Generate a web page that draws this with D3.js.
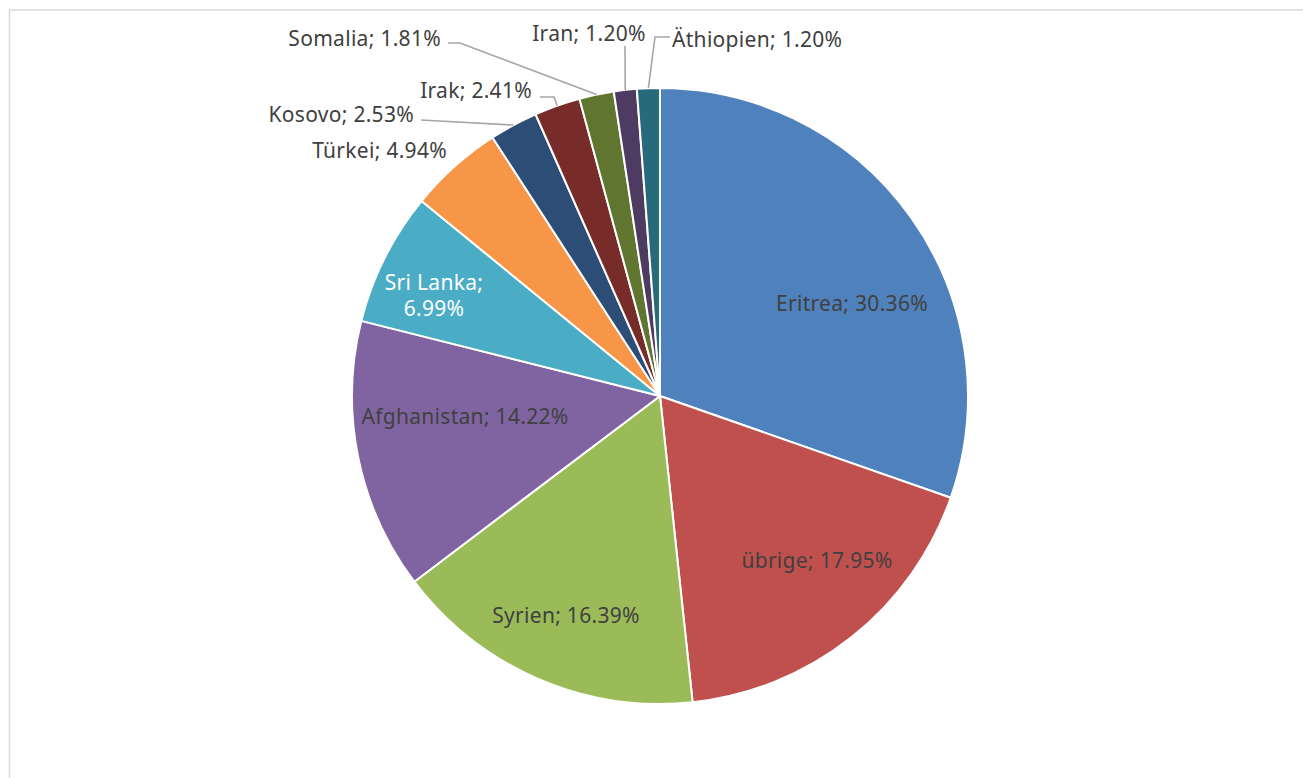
<!DOCTYPE html>
<html><head><meta charset="utf-8">
<script src="https://cdn.jsdelivr.net/npm/d3@7"></script>
<style>
html,body{margin:0;padding:0;background:#fff;}
svg{display:block;}
text{font-family:"Noto Sans",sans-serif;}
</style></head>
<body>
<svg id="chart" width="1303" height="778"></svg>
<script>
const categories = ["Eritrea","übrige","Syrien","Afghanistan","Sri Lanka","Türkei","Kosovo","Irak","Somalia","Iran","Äthiopien"];
const values = [30.36,17.95,16.39,14.22,6.99,4.94,2.53,2.41,1.81,1.20,1.20];
const colors = ["#4F81BD","#C0504D","#9BBB59","#8064A2","#4BACC6","#F79646","#2C4D75","#772C2A","#5F7530","#4D3B62","#276A7C"];

// layout: label anchor positions (x, baseline y), anchor, text colour, leader via points
const labelLayout = [
  {x:852, y:311, anchor:"middle", fill:"#404040"},
  {x:817, y:568, anchor:"middle", fill:"#404040"},
  {x:566, y:623, anchor:"middle", fill:"#404040"},
  {x:465, y:424, anchor:"middle", fill:"#404040"},
  {x:434, y:290, anchor:"middle", fill:"#ffffff", lines:2},
  {x:447, y:158, anchor:"end", fill:"#404040"},
  {x:414, y:122, anchor:"end", fill:"#404040", leader:[[421,120]]},
  {x:532, y:98, anchor:"end", fill:"#404040", leader:[[540,97],[554,97]]},
  {x:441, y:46, anchor:"end", fill:"#404040", leader:[[448,43],[460,43]]},
  {x:589, y:41, anchor:"middle", fill:"#404040", leader:[[625,46]]},
  {x:672, y:47, anchor:"start", fill:"#404040", leader:[[670,37],[655,37]]}
];

const W = 1303, H = 778;
const cx = 660, cy = 396, R = 308;
const svg = d3.select("#chart");

// chart area border
svg.append("rect").attr("x",9.5).attr("y",10).attr("width",W).attr("height",H)
  .attr("fill","none").attr("stroke","#d9d9d9").attr("stroke-width",1.5);

const data = categories.map((c,i)=>({name:c,value:values[i],color:colors[i]}));
const pie = d3.pie().value(d=>d.value).sort(null);
const arcs = pie(data);
const arc = d3.arc().innerRadius(0).outerRadius(R);

const g = svg.append("g").attr("transform",`translate(${cx},${cy})`);
g.selectAll("path.slice").data(arcs).enter().append("path")
  .attr("class","slice")
  .attr("d",arc)
  .attr("fill",d=>d.data.color)
  .attr("stroke","#ffffff").attr("stroke-width",2).attr("stroke-linejoin","round");

// leader lines
const outerPt = (d, f) => {
  const a = d.startAngle + (d.endAngle - d.startAngle)*f;
  return [cx + R*Math.sin(a), cy - R*Math.cos(a)];
};
arcs.forEach((d,i)=>{
  const L = labelLayout[i];
  if(!L.leader) return;
  const pts = L.leader.slice();
  pts.push(outerPt(d,0.5));
  svg.append("path").attr("d", d3.line()(pts))
    .attr("fill","none").attr("stroke","#a6a6a6").attr("stroke-width",1.6);
});

// labels
arcs.forEach((d,i)=>{
  const L = labelLayout[i];
  const pct = d.data.value.toFixed(2) + "%";
  const t = svg.append("text").attr("x",L.x).attr("y",L.y)
    .attr("text-anchor",L.anchor).attr("fill",L.fill)
    .attr("font-size",21).attr("letter-spacing",0.3);
  if(L.lines===2){
    t.append("tspan").attr("x",L.x).attr("dy",0).text(d.data.name + ";");
    t.append("tspan").attr("x",L.x).attr("dy",26).text(pct);
  } else {
    t.text(d.data.name + "; " + pct);
  }
});
</script>
</body></html>
